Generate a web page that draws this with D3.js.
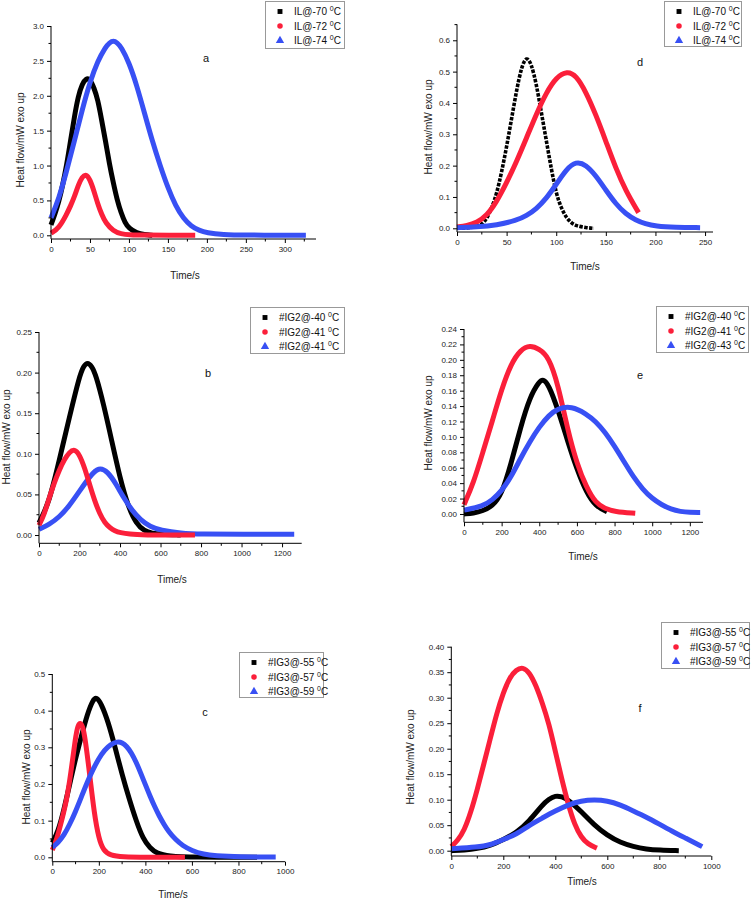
<!DOCTYPE html>
<html><head><meta charset="utf-8">
<script src="https://cdn.jsdelivr.net/npm/d3@7"></script>
<style>body{margin:0;background:#fff}svg{display:block}text{font-family:"Liberation Sans",Arial,sans-serif}</style>
</head><body>
<svg id="chart" width="756" height="900"></svg>
<script>
// ---------- DATA ----------
// Panel a
const a_names = ["IL@-70", "IL@-72", "IL@-74"];
const a_t1 = [0,5,10,15,20,25,30,35,40,45,50,55,60,65,70,75,80,85,90,95,100,110,120,130];
const a_v1 = [0.15,0.3,0.48,0.72,1.0,1.35,1.7,2.0,2.17,2.25,2.24,2.12,1.95,1.65,1.35,1.02,0.75,0.5,0.32,0.18,0.1,0.03,0.01,0.0];
const a_t2 = [0,10,20,25,30,35,40,45,50,55,60,65,70,80,90,100,120,150,185];
const a_v2 = [0.03,0.1,0.3,0.42,0.55,0.72,0.84,0.88,0.8,0.64,0.45,0.3,0.18,0.06,0.02,0.008,0.002,0.0,0.0];
const a_t3 = [0,10,20,30,40,50,60,70,75,80,85,90,100,110,120,130,140,150,160,170,180,190,200,220,250,300,327];
const a_v3 = [0.25,0.52,0.92,1.35,1.8,2.2,2.5,2.7,2.76,2.79,2.76,2.7,2.48,2.15,1.75,1.35,1.0,0.68,0.42,0.24,0.13,0.07,0.035,0.01,0.003,0.0,0.0];
const a_xTicks = [0,50,100,150,200,250,300];
const a_yTicks = [0.0,0.5,1.0,1.5,2.0,2.5,3.0];

// Panel d
const d_names = ["IL@-70", "IL@-72", "IL@-74"];
const d_t1 = [0,10,20,25,30,35,40,45,50,55,60,65,70,75,80,85,90,95,100,105,110,115,120,130,138];
const d_v1 = [0.0,0.001,0.005,0.012,0.03,0.065,0.11,0.18,0.26,0.35,0.44,0.515,0.55,0.525,0.46,0.37,0.28,0.19,0.11,0.065,0.035,0.018,0.008,0.002,0.0];
const d_t2 = [0,10,20,30,40,50,60,70,80,90,100,111,120,130,140,150,160,170,183];
const d_v2 = [0.004,0.008,0.018,0.04,0.085,0.145,0.213,0.288,0.365,0.433,0.482,0.502,0.488,0.435,0.362,0.278,0.192,0.12,0.05];
const d_t3 = [0,20,40,60,70,80,90,100,110,120,130,140,150,160,170,180,190,200,220,245];
const d_v3 = [0.002,0.004,0.01,0.025,0.04,0.062,0.095,0.14,0.188,0.214,0.203,0.168,0.122,0.078,0.046,0.026,0.014,0.007,0.003,0.002];
const d_xTicks = [0,50,100,150,200,250];
const d_yTicks = [0.0,0.1,0.2,0.3,0.4,0.5,0.6];

// Panel b
const b_names = ["#IG2@-40", "#IG2@-41", "#IG2@-41"];
const b_t1 = [0,50,100,150,200,220,240,260,280,320,360,400,440,480,520,560,600,700];
const b_v1 = [0.015,0.04,0.092,0.145,0.196,0.208,0.213,0.208,0.198,0.16,0.115,0.07,0.035,0.014,0.005,0.002,0.001,0.0];
const b_t2 = [0,25,50,75,100,125,150,175,200,225,250,275,300,325,350,375,400,450,500,770];
const b_v2 = [0.012,0.025,0.045,0.064,0.08,0.093,0.102,0.106,0.099,0.083,0.062,0.042,0.026,0.015,0.009,0.005,0.003,0.001,0.0,0.0];
const b_t3 = [0,50,100,150,200,250,295,340,380,420,460,500,550,600,700,800,1000,1260];
const b_v3 = [0.007,0.013,0.022,0.036,0.054,0.072,0.084,0.078,0.063,0.045,0.03,0.019,0.01,0.006,0.002,0.001,0.001,0.001];
const b_xTicks = [0,200,400,600,800,1000,1200];
const b_yTicks = [0.00,0.05,0.10,0.15,0.20,0.25];

// Panel e
const e_names = ["#IG2@-40", "#IG2@-41", "#IG2@-43"];
const e_t1 = [0,50,100,150,200,250,300,350,400,420,450,500,550,600,650,700,760];
const e_v1 = [0.0,0.001,0.004,0.01,0.025,0.065,0.112,0.152,0.172,0.175,0.168,0.135,0.095,0.058,0.028,0.01,0.003];
const e_t2 = [0,50,100,150,200,250,300,350,400,450,500,550,600,650,700,750,800,910];
const e_v2 = [0.012,0.04,0.08,0.12,0.162,0.195,0.213,0.219,0.214,0.204,0.168,0.11,0.065,0.035,0.014,0.007,0.003,0.001];
const e_t3 = [0,100,150,200,250,300,350,400,450,500,570,650,700,750,800,850,900,950,1000,1050,1100,1150,1200,1255];
const e_v3 = [0.005,0.01,0.018,0.03,0.048,0.072,0.094,0.113,0.128,0.137,0.14,0.13,0.12,0.106,0.088,0.068,0.048,0.032,0.02,0.012,0.006,0.003,0.002,0.002];
const e_xTicks = [0,200,400,600,800,1000,1200];
const e_yTicks = [0.00,0.02,0.04,0.06,0.08,0.10,0.12,0.14,0.16,0.18,0.20,0.22,0.24];

// Panel c
const c_names = ["#IG3@-55", "#IG3@-57", "#IG3@-59"];
const c_t1 = [0,25,50,75,100,125,150,175,190,210,240,270,300,330,360,390,420,450,500,600,880];
const c_v1 = [0.04,0.07,0.13,0.2,0.27,0.33,0.39,0.43,0.437,0.42,0.37,0.3,0.225,0.16,0.1,0.05,0.025,0.01,0.003,0.0,0.0];
const c_t2 = [0,20,40,60,80,100,110,120,130,140,160,180,200,220,250,300,400,570];
const c_v2 = [0.02,0.05,0.1,0.15,0.23,0.33,0.36,0.368,0.358,0.33,0.23,0.12,0.05,0.018,0.005,0.001,0.0,0.0];
const c_t3 = [0,25,50,75,100,125,150,175,200,225,250,280,300,320,340,360,380,400,420,440,460,480,500,530,560,600,650,700,800,960];
const c_v3 = [0.027,0.04,0.06,0.09,0.125,0.165,0.205,0.24,0.27,0.293,0.308,0.316,0.313,0.303,0.285,0.26,0.23,0.198,0.167,0.138,0.112,0.09,0.07,0.048,0.032,0.018,0.008,0.004,0.001,0.001];
const c_xTicks = [0,200,400,600,800,1000];
const c_yTicks = [0.0,0.1,0.2,0.3,0.4,0.5];

// Panel f
const f_names = ["#IG3@-55", "#IG3@-57", "#IG3@-59"];
const f_t1 = [0,50,100,150,200,250,300,350,375,400,425,450,500,550,600,650,700,750,800,875];
const f_v1 = [0.0,0.001,0.004,0.01,0.022,0.035,0.058,0.09,0.101,0.108,0.106,0.1,0.077,0.05,0.03,0.016,0.008,0.003,0.001,0.0];
const f_t2 = [0,25,50,75,100,125,150,175,200,225,250,275,300,325,350,375,400,425,450,475,500,525,560];
const f_v2 = [0.008,0.02,0.04,0.075,0.12,0.17,0.22,0.27,0.31,0.34,0.355,0.36,0.35,0.325,0.29,0.25,0.195,0.14,0.09,0.05,0.026,0.013,0.005];
const f_t3 = [0,100,150,200,250,300,350,400,450,500,550,600,650,700,750,800,850,900,965];
const f_v3 = [0.004,0.007,0.011,0.022,0.032,0.05,0.064,0.078,0.09,0.098,0.1,0.098,0.09,0.078,0.066,0.052,0.038,0.025,0.008];
const f_xTicks = [0,200,400,600,800,1000];
const f_yTicks = [0.00,0.05,0.10,0.15,0.20,0.25,0.30,0.35,0.40];

// ---------- STYLE / LAYOUT ----------
const colors = ["#000000", "#fb1f3a", "#3850f4"];
const shapes = [d3.symbolSquare, d3.symbolCircle, d3.symbolTriangle];
const svg = d3.select("#chart");
svg.append("rect").attr("width",756).attr("height",900).attr("fill","#fff");

const panels = [
  {id:"a", names:a_names, t:[a_t1,a_t2,a_t3], v:[a_v1,a_v2,a_v3], xTicks:a_xTicks, yTicks:a_yTicks,
   xMinor:25, yMinor:0.25, yFmt:".1f", xDom:[0,340], xRng:[51,316], yDom:[-0.053,3.0], yRng:[239,26],
   leg:[265,1,79,47], lab:[206,62], xl:[185,279], yl:[21,140]},
  {id:"d", names:d_names, t:[d_t1,d_t2,d_t3], v:[d_v1,d_v2,d_v3], xTicks:d_xTicks, yTicks:d_yTicks,
   xMinor:25, yMinor:0.05, yFmt:".1f", xDom:[0,258], xRng:[457,713], yDom:[-0.0118,0.651], yRng:[232,24.3],
   leg:[664,1,77,45], lab:[640,66], xl:[585,270], yl:[429,127], dotted:true},
  {id:"b", names:b_names, t:[b_t1,b_t2,b_t3], v:[b_v1,b_v2,b_v3], xTicks:b_xTicks, yTicks:b_yTicks,
   xMinor:100, yMinor:0.025, yFmt:".2f", xDom:[0,1297], xRng:[39,301.7], yDom:[-0.0102,0.25], yRng:[543.3,332],
   leg:[250,307,94,46], lab:[208,377], xl:[172,583], yl:[7,437]},
  {id:"e", names:e_names, t:[e_t1,e_t2,e_t3], v:[e_v1,e_v2,e_v3], xTicks:e_xTicks, yTicks:e_yTicks,
   xMinor:100, yMinor:0.01, yFmt:".2f", xDom:[0,1270], xRng:[464,703], yDom:[-0.0108,0.24], yRng:[522.3,329],
   leg:[656,306,92,46], lab:[640,379], xl:[583,560], yl:[429,423]},
  {id:"c", names:c_names, t:[c_t1,c_t2,c_t3], v:[c_v1,c_v2,c_v3], xTicks:c_xTicks, yTicks:c_yTicks,
   xMinor:100, yMinor:0.05, yFmt:".1f", xDom:[0,1000], xRng:[52.3,285], yDom:[-0.012,0.5], yRng:[861.7,674],
   leg:[239,652,84,45], lab:[205,716], xl:[173,898], yl:[27,777]},
  {id:"f", names:f_names, t:[f_t1,f_t2,f_t3], v:[f_v1,f_v2,f_v3], xTicks:f_xTicks, yTicks:f_yTicks,
   xMinor:100, yMinor:0.025, yFmt:".2f", xDom:[0,1000], xRng:[451.3,711.3], yDom:[-0.0104,0.40], yRng:[856,646.7],
   leg:[661,622,88,46], lab:[640,712], xl:[582,885], yl:[411,757]}
];

function range(a,b,s){const r=[];for(let v=a;v<=b+1e-9;v+=s)r.push(+v.toFixed(6));return r;}

panels.forEach(p=>{
  const g = svg.append("g");
  const x = d3.scaleLinear().domain(p.xDom).range(p.xRng);
  const y = d3.scaleLinear().domain(p.yDom).range(p.yRng);
  const xAxisY = p.yRng[0], yAxisX = p.xRng[0];

  // curves (drawn under axes)
  const line = d3.line().x(d=>x(d[0])).y(d=>y(d[1])).curve(d3.curveBasis);
  const drawOrder = {a:[0,1,2], d:[0,1,2], b:[0,2,1], e:[0,1,2], c:[0,1,2], f:[0,1,2]}[p.id];
  drawOrder.forEach(i=>{
    const pts = p.t[i].map((tt,k)=>[tt,p.v[i][k]]);
    const path = g.append("path").datum(pts).attr("d",line).attr("fill","none")
      .attr("stroke",colors[i]).attr("stroke-width", (p.dotted&&i===0)?3.6:5)
      .attr("stroke-linejoin","round");
    if(p.dotted && i===0) path.attr("stroke-dasharray","3.4,1.4");
  });

  // x axis
  const xAxis = d3.axisBottom(x).tickValues(p.xTicks).tickSize(4).tickPadding(3).tickFormat(d3.format("d"));
  const gx = g.append("g").attr("transform",`translate(0,${xAxisY})`).call(xAxis);
  gx.select(".domain").attr("d",`M${p.xRng[0]},0H${p.xRng[1]}`);
  const xMin = range(0, p.xDom[1], p.xMinor).filter(v=>!p.xTicks.includes(v));
  gx.selectAll(".minor").data(xMin).enter().append("line").attr("class","minor")
    .attr("x1",d=>x(d)).attr("x2",d=>x(d)).attr("y1",0).attr("y2",2.5).attr("stroke","#000");

  // y axis
  const yAxis = d3.axisLeft(y).tickValues(p.yTicks).tickSize(4).tickPadding(3).tickFormat(d3.format(p.yFmt));
  const gy = g.append("g").attr("transform",`translate(${yAxisX},0)`).call(yAxis);
  gy.select(".domain").attr("d",`M0,${p.yRng[0]}V${p.yRng[1]}`);
  const yMin = range(0, p.yDom[1], p.yMinor).filter(v=>!p.yTicks.some(t=>Math.abs(t-v)<1e-9));
  gy.selectAll(".minor").data(yMin).enter().append("line").attr("class","minor")
    .attr("y1",d=>y(d)).attr("y2",d=>y(d)).attr("x1",0).attr("x2",-2.5).attr("stroke","#000");

  [gx,gy].forEach(a=>{
    a.selectAll("text").attr("font-size",8).attr("fill","#222").attr("font-family",'"Liberation Sans",Arial,sans-serif');
    a.selectAll("line").attr("stroke","#000");
    a.select(".domain").attr("stroke","#000");
  });

  // axis titles
  g.append("text").attr("x",p.xl[0]).attr("y",p.xl[1]).attr("text-anchor","middle")
    .attr("font-size",10).attr("fill","#222").text("Time/s");
  g.append("text").attr("transform",`translate(${p.yl[0]},${p.yl[1]}) rotate(-90)`)
    .attr("text-anchor","middle").attr("dominant-baseline","middle")
    .attr("font-size",10).attr("fill","#222").text("Heat flow/mW exo up");

  // panel letter
  g.append("text").attr("x",p.lab[0]).attr("y",p.lab[1]).attr("text-anchor","middle")
    .attr("font-size",11).attr("fill","#111").text(p.id);

  // legend
  const [lx,ly,lw,lh] = p.leg;
  const lg = g.append("g");
  lg.append("rect").attr("x",lx+0.5).attr("y",ly+0.5).attr("width",lw).attr("height",lh)
    .attr("fill","#fff").attr("stroke","#999").attr("stroke-width",1);
  p.names.forEach((nm,i)=>{
    const ry = ly + 10.5 + i*14.5;
    lg.append("path").attr("d",d3.symbol().type(shapes[i]).size(i===2?30:24)())
      .attr("transform",`translate(${lx+15},${ry})`).attr("fill",colors[i]);
    const tx = lg.append("text").attr("x",lx+29).attr("y",ry+3.6).attr("font-size",10).attr("fill","#111");
    tx.append("tspan").text(nm+" ");
    tx.append("tspan").attr("font-size",7).attr("dy",-4).text("0");
    tx.append("tspan").attr("dy",4).text("C");
  });
});
</script>
</body></html>
